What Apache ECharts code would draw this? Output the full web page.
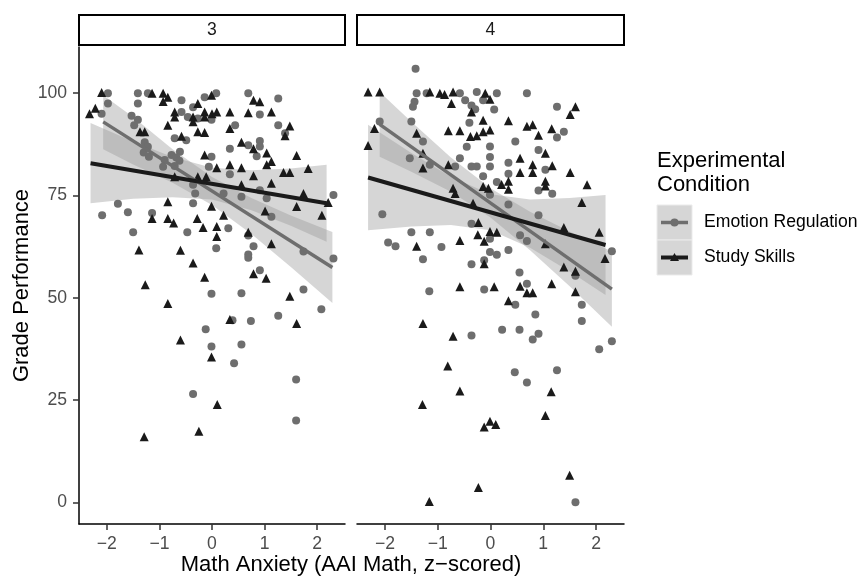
<!DOCTYPE html>
<html>
<head>
<meta charset="utf-8">
<script src="https://cdn.jsdelivr.net/npm/echarts@6/dist/echarts.min.js"></script>
<style>
  html, body { margin: 0; padding: 0; background: #fff; }
  #chart { width: 865px; height: 577px; }
</style>
</head>
<body>
<div id="chart"></div>
<script>
// facets and ticks
const facets = ['3', '4'];
const xTicks = [-2, -1, 0, 1, 2];
const yTicks = [0, 25, 50, 75, 100];

// panel 3: [math anxiety, grade]
const emotion3 = [
  [-1.98, 100], [-1.41, 100], [-1.22, 100], [-0.58, 98.3], [0.08, 100], [-0.14, 99],
  [-1.98, 97.5], [-1.41, 97.5], [-2.10, 95], [-1.53, 94.5], [-1.41, 93.5], [-1.48, 92.2],
  [-0.58, 95.4], [-0.46, 94.2], [-0.36, 96.6], [-0.27, 93.8], [-0.01, 93.5],
  [-0.71, 89], [-0.49, 88.5], [-1.28, 88], [-1.22, 86.9], [-1.20, 84.5], [-1.30, 85.5],
  [-0.61, 85.7], [-0.77, 84.9], [-0.68, 84.3], [-0.62, 83.5], [-0.90, 83.7], [-0.93, 82], [-0.71, 82.2],
  [-0.01, 84.5], [-0.06, 82], [-0.36, 77.6], [-0.32, 75.5], [-0.36, 73.1],
  [0.69, 100], [1.26, 98.7], [0.91, 94.8], [0.44, 92.2], [1.26, 92.2], [1.39, 90.2],
  [0.34, 86.4], [0.69, 87.3], [0.91, 88.3], [0.91, 87], [0.85, 84.6], [0.34, 80.2], [0.22, 75.5],
  [0.56, 74.7], [0.91, 76.3], [1.04, 74.3], [2.31, 75.1],
  [-1.79, 73], [-2.09, 70.2], [-1.6, 70.9], [-1.14, 70.7], [-1.5, 66], [-0.47, 66], [0.08, 62.1],
  [-0.01, 51], [-0.12, 42.3], [-0.01, 38.1],
  [0.31, 67], [0.69, 65.2], [1.13, 69.8], [0.79, 62.6], [0.69, 60.6], [0.69, 59.8], [1.74, 61.3],
  [2.31, 59.6], [0.91, 56.7], [0.56, 51.1], [1.74, 52.0], [2.08, 47.2], [1.26, 45.6], [0.39, 44.5],
  [0.74, 44.3], [0.56, 38.6], [0.42, 34.0], [1.60, 30], [-0.36, 26.5], [1.60, 20]
];
const study3 = [
  [-2.10, 100.2], [-1.14, 100], [-0.93, 100], [-0.84, 99], [-0.93, 98], [-0.01, 99.5], [-0.27, 97.5],
  [-2.22, 96.3], [-2.33, 95], [-0.71, 95.4], [-0.71, 94.2], [-0.36, 94.2], [-0.36, 93], [-0.14, 95.4],
  [-0.14, 94.2], [0.0, 95], [-0.84, 92.2], [-0.27, 90.6], [-0.14, 90.4], [-0.58, 89.5], [-1.37, 90.6],
  [-1.28, 90.6], [-0.14, 84.9], [-0.27, 79.6], [-0.11, 79.6], [-0.71, 79.6],
  [0.79, 98.3], [0.91, 97.9], [0.09, 95.4], [0.34, 95.4], [0.69, 95.2], [1.13, 95.4], [0.34, 91.4],
  [1.48, 92], [1.39, 89.6], [0.56, 88], [0.79, 86.4], [1.04, 85.4], [1.61, 84.8], [1.04, 82.5], [1.13, 83.3],
  [0.34, 82.5], [0.09, 81.8], [0.56, 81.8], [0.79, 79.8], [1.36, 80.6], [1.48, 80.6], [1.83, 81.6],
  [0.56, 77.6], [1.13, 78], [1.74, 75.5], [1.61, 72.3], [2.21, 73.3],
  [-0.84, 73.5], [-0.01, 72.4], [-1.14, 69.4], [-0.84, 69.4], [-0.73, 68.3], [-0.28, 69.4], [-0.17, 67.2],
  [-1.39, 61.7], [-0.6, 61.6], [-0.36, 58.5], [-0.14, 55], [-1.27, 53.2], [-0.84, 48.6], [-0.6, 39.7], [-0.01, 35.5],
  [0.22, 70.2], [0.09, 67.4], [0.09, 65], [0.69, 66], [1.01, 71.2], [2.09, 70.2], [1.13, 63.2], [0.79, 55.9],
  [1.03, 54.8], [1.48, 50.4], [0.34, 44.7], [1.61, 43.7], [0.10, 23.9], [-0.25, 17.4], [-1.29, 16]
];

// panel 4
const emotion4 = [
  [-1.42, 106], [-1.40, 100], [-1.21, 100], [-0.58, 100], [-0.26, 100.3], [-0.48, 98.3], [-0.14, 98.3],
  [-1.44, 97.9], [-1.47, 96.7], [-0.36, 97], [-0.29, 96.1], [0.07, 96], [-0.40, 92.8], [-1.5, 93.1],
  [-2.10, 93.1], [-1.28, 88.2], [-1.53, 84.1], [-0.45, 86.9], [-0.58, 84.1], [-1.15, 82.5], [-0.67, 82.1],
  [-0.36, 82.1], [-0.26, 82.1], [-0.01, 82.1], [-0.14, 79.7], [-0.01, 84.4],
  [0.12, 100], [0.69, 100], [1.26, 96.7], [1.39, 90.6], [1.26, 89.2], [0.47, 88.2], [-0.01, 87],
  [0.91, 86.1], [0.34, 83], [1.04, 81.3], [0.34, 80.3], [0.12, 78.3], [0.91, 76.2], [1.17, 75.4], [-0.01, 75.2], [0.34, 72.8],
  [-2.05, 70.4], [-1.50, 66], [-1.15, 66], [-1.94, 63.5], [-1.80, 62.6], [-0.93, 62.4], [-1.28, 59.4],
  [-0.36, 58.2], [-0.12, 59.2], [-0.01, 61.2], [-0.01, 64.4], [-0.36, 68.1], [-1.16, 51.6], [-0.12, 52], [-0.36, 40.8],
  [0.91, 70.2], [0.56, 65.3], [0.69, 63.9], [0.34, 61.7], [0.12, 60.5], [2.30, 61.4], [0.55, 56.2], [0.69, 53.4],
  [1.61, 55.4], [1.73, 48.3], [0.47, 48.3], [0.85, 45.9], [1.73, 44.3], [0.22, 42.2], [0.55, 42.2], [0.91, 41.2],
  [0.80, 39.8], [2.30, 39.4], [2.06, 37.4], [0.46, 31.8], [0.69, 29.3], [1.26, 32.3], [1.61, 0]
];
const study4 = [
  [-2.32, 100.3], [-2.10, 100.3], [-1.15, 100.3], [-0.96, 100], [-0.87, 99.7], [-0.71, 100.3], [-0.10, 100],
  [-0.01, 98.5], [-0.74, 97.5], [-0.36, 95.4], [-0.14, 93.4], [-0.80, 90.8], [-0.58, 90.8], [-0.38, 89.4],
  [-0.26, 89.6], [-0.14, 90.6], [-0.01, 91], [-2.20, 91.4], [-2.32, 87.2], [-1.40, 90.2], [-1.28, 85.3],
  [-1.28, 81.7], [-0.80, 82.5], [-0.71, 76.8], [-0.67, 75.5], [-0.33, 73.1], [-0.14, 77.2], [-0.04, 76.8],
  [1.61, 96.7], [1.51, 94.8], [0.34, 93.3], [0.69, 91.9], [0.80, 92.3], [1.16, 91.3], [0.91, 89.7],
  [0.56, 84.1], [1.04, 85.3], [0.80, 82.5], [1.17, 82.3], [0.56, 80.6], [0.80, 80.6], [1.04, 78.5], [1.51, 80.6],
  [1.83, 77.6], [0.34, 78.5], [0.21, 77.7], [0.34, 76.5], [1.04, 77.3], [1.73, 73.3],
  [-1.40, 62.6], [-0.58, 64], [-0.24, 65.4], [-0.12, 63.8], [-0.12, 58.3], [-0.01, 66.2], [-0.23, 68.4],
  [-0.58, 52.7], [0.07, 52.7], [-1.28, 43.7], [-0.71, 40.6], [-0.81, 33.3],
  [1.39, 67.2], [2.06, 66], [1.04, 63.2], [2.17, 59.6], [1.39, 57.5], [1.61, 56.5], [0.56, 52.8], [0.69, 51.2],
  [0.80, 51.2], [1.16, 53.4], [0.34, 49.3], [1.61, 51.5], [0.12, 66],
  [-0.58, 27.2], [-1.29, 23.9], [1.15, 27], [1.04, 21.2], [-0.01, 19.8], [0.10, 19], [-0.12, 18.4],
  [1.50, 6.6], [-0.23, 3.6], [-1.16, 0.2]
];

// fitted lines (lm), end points
const emotionFit3 = [[-2.07, 93.0], [2.29, 57.4]];
const studyFit3 = [[-2.31, 82.9], [2.18, 73.1]];
const emotionFit4 = [[-2.10, 92.4], [2.30, 52.1]];
const studyFit4 = [[-2.32, 79.4], [2.18, 62.9]];

// confidence ribbons: [x, lower, upper]
const emotionBand3 = [[-2.07, 86.3, 99.5], [-1.5, 82.6, 94.2], [-0.75, 78.1, 86.3], [0, 72.7, 79.5], [0.75, 65.6, 74.4], [1.5, 57.5, 70.1], [2.29, 48.7, 66.1]];
const studyBand3 = [[-2.31, 73.1, 92.7], [-1.5, 74.2, 88.2], [-0.75, 74.6, 84.4], [0, 74.0, 81.8], [0.75, 71.4, 81.2], [1.5, 67.6, 81.6], [2.18, 63.7, 82.5]];
const emotionBand4 = [[-2.1, 84.5, 100.3], [-1.5, 80.8, 93.0], [-0.75, 75.9, 84.3], [0, 69.6, 76.8], [0.75, 61.6, 71.0], [1.5, 52.8, 66.2], [2.3, 42.9, 61.3]];
const studyBand4 = [[-2.32, 66.5, 92.3], [-1.5, 67.4, 85.4], [-0.75, 67.8, 79.6], [0, 66.5, 75.3], [0.75, 62.2, 74.0], [1.5, 56.4, 74.4], [2.18, 50.7, 75.1]];

const FONT = '"Liberation Sans", Arial, sans-serif';
const ER_COLOR = '#6e6e6e';
const SS_COLOR = '#1a1a1a';
const BAND_FILL = 'rgba(153,153,153,0.4)';

const panelLeft = [79, 357];
const panelWidth = [266, 267];
const panelTop = 47;
const panelHeight = 477;

const minus = (v) => String(v).replace('-', '\u2212');

function bandSeries(rows, idx) {
  return {
    type: 'custom',
    xAxisIndex: idx,
    yAxisIndex: idx,
    silent: true,
    data: rows,
    encode: { x: 0, y: [1, 2] },
    renderItem: (params, api) => {
      if (params.dataIndex !== 0) return null;
      const upper = rows.map(r => api.coord([r[0], r[2]]));
      const lower = rows.slice().reverse().map(r => api.coord([r[0], r[1]]));
      return {
        type: 'polygon',
        shape: { points: upper.concat(lower) },
        style: { fill: BAND_FILL }
      };
    }
  };
}

function fitSeries(points, idx, color, width) {
  return {
    type: 'line',
    xAxisIndex: idx,
    yAxisIndex: idx,
    data: points,
    showSymbol: false,
    silent: true,
    lineStyle: { color: color, width: width }
  };
}

function pointSeries(points, idx, symbol, color, size) {
  return {
    type: 'scatter',
    xAxisIndex: idx,
    yAxisIndex: idx,
    data: points,
    symbol: symbol,
    symbolSize: size,
    itemStyle: { color: color, opacity: 1 }
  };
}

const chart = echarts.init(document.getElementById('chart'));

const xAxes = facets.map((f, i) => ({
  gridIndex: i,
  type: 'value',
  min: -2.53,
  max: 2.53,
  axisLine: { show: true, onZero: false, lineStyle: { color: '#000', width: 1.5 } },
  axisTick: { show: true, customValues: xTicks, length: 6, lineStyle: { color: '#333', width: 1.5 } },
  axisLabel: { customValues: xTicks, formatter: minus, color: '#4d4d4d', fontSize: 17.6, fontFamily: FONT, margin: 11 },
  splitLine: { show: false }
}));

const yAxes = facets.map((f, i) => ({
  gridIndex: i,
  type: 'value',
  min: -5.3,
  max: 111.3,
  show: i === 0,
  axisLine: { show: true, onZero: false, lineStyle: { color: '#000', width: 1.5 } },
  axisTick: { show: true, customValues: yTicks, length: 6, lineStyle: { color: '#333', width: 1.5 } },
  axisLabel: { customValues: yTicks, color: '#4d4d4d', fontSize: 17.6, fontFamily: FONT, margin: 12 },
  splitLine: { show: false }
}));

const graphics = [];
facets.forEach((f, i) => {
  graphics.push({
    type: 'rect',
    shape: { x: panelLeft[i], y: 15, width: panelWidth[i], height: 30 },
    style: { fill: '#fff', stroke: '#000', lineWidth: 2 }
  });
  graphics.push({
    type: 'text',
    x: panelLeft[i] + panelWidth[i] / 2,
    y: 30,
    style: { text: f, fill: '#1a1a1a', font: '17.6px ' + FONT, align: 'center', verticalAlign: 'middle' }
  });
});

// axis titles
graphics.push({
  type: 'text', x: 351, y: 565,
  style: { text: 'Math Anxiety (AAI Math, z\u2212scored)', fill: '#000', font: '22px ' + FONT, align: 'center', verticalAlign: 'middle' }
});
graphics.push({
  type: 'text', x: 22, y: panelTop + panelHeight / 2, rotation: Math.PI / 2,
  style: { text: 'Grade Performance', fill: '#000', font: '22px ' + FONT, align: 'center', verticalAlign: 'middle' }
});

// legend
graphics.push({
  type: 'text', x: 657, y: 149,
  style: { text: 'Experimental\nCondition', fill: '#000', font: '22px ' + FONT, lineHeight: 24, align: 'left', verticalAlign: 'top' }
});
const legendItems = [
  { label: 'Emotion Regulation', color: ER_COLOR, symbol: 'circle', width: 3.5 },
  { label: 'Study Skills', color: SS_COLOR, symbol: 'triangle', width: 4 }
];
legendItems.forEach((item, k) => {
  const top = 205 + k * 35;
  graphics.push({ type: 'rect', shape: { x: 657, y: top, width: 35, height: 35 }, style: { fill: '#d6d6d6', stroke: '#ebebeb', lineWidth: 1 } });
  graphics.push({ type: 'line', shape: { x1: 661, y1: top + 17.5, x2: 688, y2: top + 17.5 }, style: { stroke: item.color, lineWidth: item.width } });
  if (item.symbol === 'circle') {
    graphics.push({ type: 'circle', shape: { cx: 674.5, cy: top + 17.5, r: 4 }, style: { fill: item.color } });
  } else {
    graphics.push({ type: 'polygon', shape: { points: [[674.5, top + 13], [679, top + 21], [670, top + 21]] }, style: { fill: item.color } });
  }
  graphics.push({
    type: 'text', x: 704, y: top + 17.5,
    style: { text: item.label, fill: '#000', font: '17.6px ' + FONT, align: 'left', verticalAlign: 'middle' }
  });
});

const series = [
  pointSeries(emotion3, 0, 'circle', ER_COLOR, 8),
  pointSeries(study3, 0, 'triangle', SS_COLOR, 9),
  bandSeries(emotionBand3, 0),
  fitSeries(emotionFit3, 0, ER_COLOR, 3.5),
  bandSeries(studyBand3, 0),
  fitSeries(studyFit3, 0, SS_COLOR, 4),
  pointSeries(emotion4, 1, 'circle', ER_COLOR, 8),
  pointSeries(study4, 1, 'triangle', SS_COLOR, 9),
  bandSeries(emotionBand4, 1),
  fitSeries(emotionFit4, 1, ER_COLOR, 3.5),
  bandSeries(studyBand4, 1),
  fitSeries(studyFit4, 1, SS_COLOR, 4)
];

chart.setOption({
  animation: false,
  backgroundColor: '#fff',
  textStyle: { fontFamily: FONT },
  grid: facets.map((f, i) => ({
    left: panelLeft[i], top: panelTop, width: panelWidth[i], height: panelHeight,
    containLabel: false
  })),
  xAxis: xAxes,
  yAxis: yAxes,
  series: series,
  graphic: graphics
});
</script>
</body>
</html>
